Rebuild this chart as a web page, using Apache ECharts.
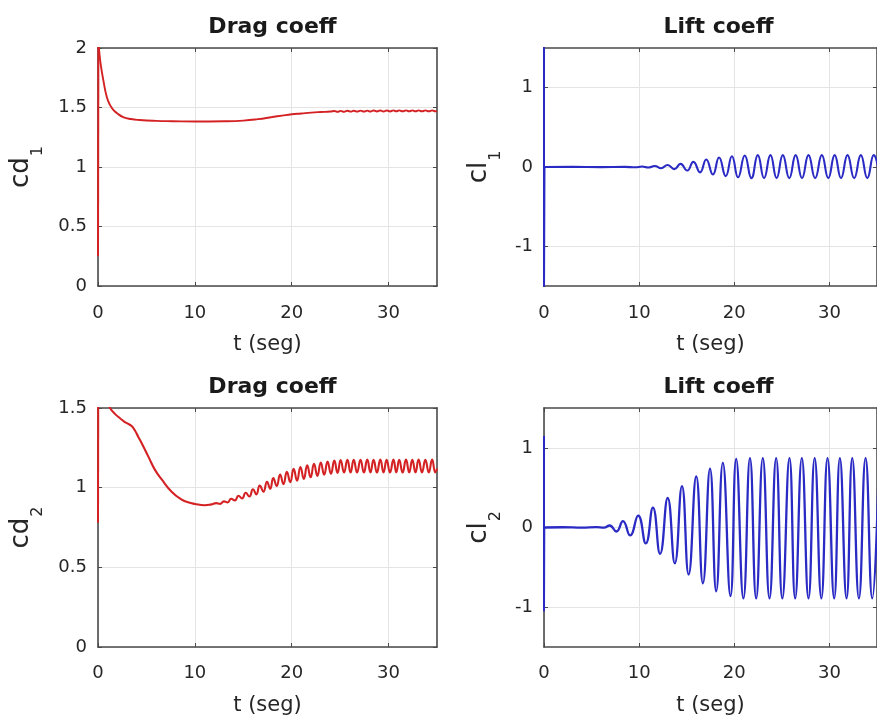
<!DOCTYPE html>
<html><head><meta charset="utf-8">
<script src="https://cdn.jsdelivr.net/npm/echarts@6/dist/echarts.min.js"></script>
<style>html,body{margin:0;padding:0;background:#fff}#c{width:877px;height:727px}</style>
</head><body><div id="c"></div>
<script>
// ---------- data ----------
const xTicks = [0, 10, 20, 30];
const tMax = 35;
const cd1Ticks = [0, 0.5, 1, 1.5, 2];
const cd2Ticks = [0, 0.5, 1, 1.5];
const clTicks = [-1, 0, 1];

const titles = ['Drag coeff', 'Lift coeff', 'Drag coeff', 'Lift coeff'];
const xName = 't (seg)';
const yNames = [['cd', '1'], ['cl', '1'], ['cd', '2'], ['cl', '2']];

const cd1Spike = [[0, 0.25], [0.04, 2.05]];
const cd1 = [[0.04,2.05],[0.15,1.95],[0.3,1.85],[0.55,1.73],[0.9,1.59],[1.25,1.52],[1.58,1.48],[2.0,1.45],[2.6,1.42],[3.4,1.403],[4.3,1.395],[6,1.388],[7.7,1.385],[10,1.382],[13,1.384],[15,1.39],[16.5,1.402],[18,1.42],[19,1.432],[20,1.443],[21,1.45],[22,1.457],[23,1.462],[24,1.466],
 [24.4,1.471],[24.73,1.463],[25.05,1.472],[25.4,1.464],[25.75,1.473],[26.08,1.465],[26.4,1.473],[26.75,1.465],[27.1,1.474],[27.45,1.466],[27.8,1.474],[28.13,1.466],[28.45,1.475],[28.8,1.467],[29.15,1.475],[29.48,1.467],[29.8,1.475],[30.15,1.467],[30.5,1.476],[30.8,1.468],[31.1,1.476],[31.45,1.468],[31.8,1.476],[32.13,1.468],[32.45,1.476],[32.78,1.468],[33.1,1.476],[33.45,1.468],[33.8,1.476],[34.15,1.468],[34.5,1.476],[34.82,1.468],[35.0,1.472]];

const cl1Spike = [[0, 0], [0, 1.6], [0, -1.6], [0.05, 0]];
const cl1 = [[0.05,0],[3,0.002],[6,-0.002],[8.5,0.002],[9.6,-0.004],[10.3,0.006],[10.95,-0.007],[11.65,0.013],[12.3,-0.015],[13.0,0.025],[13.7,-0.027],[14.35,0.04],[15.05,-0.045],[15.7,0.065],[16.4,-0.068],[17.05,0.095],[17.75,-0.095],[18.4,0.12],[19.1,-0.115],[19.75,0.135],[20.4,-0.13],[21.1,0.145],[21.8,-0.14],[22.47,0.15],[23.13,-0.14],[23.8,0.15],[24.45,-0.14],[25.1,0.15],[25.78,-0.14],[26.45,0.15],[27.12,-0.14],[27.8,0.15],[28.5,-0.14],[29.2,0.15],[29.88,-0.14],[30.55,0.15],[31.22,-0.14],[31.9,0.15],[32.6,-0.14],[33.3,0.15],[33.98,-0.14],[34.65,0.15],[35.3,-0.14]];

const cd2Spike = [[0, 0.78], [0.03, 1.75]];
const cd2 = [[0.03,1.75],[0.6,1.58],[1.24,1.5],[1.8,1.46],[2.27,1.436],[2.7,1.415],[3.13,1.40],[3.5,1.385],[3.8,1.36],[4.15,1.32],[4.5,1.28],[5.2,1.195],[5.9,1.11],[6.6,1.05],[7.6,0.975],[8.6,0.927],[9.3,0.908],[10.0,0.898],[11.0,0.89],[11.7,0.895],
 [12.2,0.903],[12.6,0.898],[13.0,0.914],[13.38,0.907],[13.75,0.930],[14.13,0.920],[14.5,0.949],[14.88,0.932],[15.25,0.968],[15.63,0.945],[16.0,0.99],[16.35,0.958],[16.7,1.013],[17.08,0.975],[17.45,1.037],[17.78,0.993],[18.1,1.06],[18.45,1.01],[18.8,1.083],[19.15,1.022],[19.5,1.10],[19.85,1.035],[20.2,1.118],[20.55,1.044],[20.9,1.13],[21.25,1.055],[21.6,1.14],[21.95,1.065],[22.3,1.15],[22.65,1.074],[23.0,1.158],[23.35,1.081],[23.7,1.164],[24.05,1.087],[24.4,1.17],[24.73,1.092],[25.05,1.173],[25.4,1.095],[25.75,1.175],[26.08,1.095],[26.4,1.175],[26.75,1.095],[27.1,1.175],[27.45,1.095],[27.8,1.176],[28.13,1.096],[28.45,1.175],[28.8,1.095],[29.15,1.176],[29.48,1.096],[29.8,1.175],[30.15,1.095],[30.5,1.176],[30.8,1.096],[31.1,1.175],[31.45,1.095],[31.8,1.176],[32.13,1.096],[32.45,1.175],[32.78,1.095],[33.1,1.176],[33.45,1.096],[33.8,1.175],[34.15,1.095],[34.5,1.176],[34.82,1.096],[35.0,1.12]];

const cl2Spike = [[0, 0], [0, 1.15], [0, -1.05], [0.03, 0]];
const cl2 = [[0.03,0],[2,0.003],[4,-0.002],[5.5,0.004],[6.3,-0.002],[6.9,0.025],[7.6,-0.05],[8.3,0.08],[9.05,-0.1],[9.9,0.15],[10.7,-0.2],[11.45,0.25],[12.2,-0.33],[13.0,0.37],[13.75,-0.45],[14.5,0.52],[15.2,-0.59],[16.0,0.64],[16.7,-0.70],[17.45,0.74],[18.1,-0.80],[18.8,0.81],[19.6,-0.86],[20.2,0.86],[20.96,-0.89],[21.65,0.87],[22.3,-0.89],[23.0,0.87],[23.7,-0.89],[24.4,0.87],[25.05,-0.89],[25.8,0.87],[26.4,-0.89],[27.1,0.87],[27.8,-0.89],[28.45,0.87],[29.15,-0.89],[29.8,0.87],[30.5,-0.89],[31.1,0.87],[31.8,-0.89],[32.4,0.87],[33.1,-0.89],[33.8,0.87],[34.5,-0.89],[35.2,0.87]];

// ---------- layout / style ----------
const FONT = 'DejaVu Sans';
const AX = '#4a4a4a';
const GRIDC = '#e4e4e4';
const RED = '#d42224';
const BLUE = '#2a2ac4';
const grids = [
  {left: 98, top: 48, width: 339, height: 238},
  {left: 544, top: 48, width: 339, height: 238},
  {left: 98, top: 408, width: 339, height: 239},
  {left: 544, top: 408, width: 339, height: 239}
];
const yCfg = [
  {min: 0, max: 2, ticks: cd1Ticks, gap: 52},
  {min: -1.5, max: 1.5, ticks: clTicks, gap: 40},
  {min: 0, max: 1.5, ticks: cd2Ticks, gap: 52},
  {min: -1.5, max: 1.5, ticks: clTicks, gap: 40}
];
const panels = [
  {spike: cd1Spike, main: cd1, color: RED, w: 1.9},
  {spike: cl1Spike, main: cl1, color: BLUE, w: 2.1},
  {spike: cd2Spike, main: cd2, color: RED, w: 2.1},
  {spike: cl2Spike, main: cl2, color: BLUE, w: 2.3}
];

const xAxis = [], yAxis = [], series = [], title = [];
grids.forEach((g, i) => {
  const line = {show: true, onZero: false, lineStyle: {color: AX, width: 1.6}};
  const tick = {show: true, inside: true, length: 4, customValues: xTicks, lineStyle: {color: AX, width: 1}};
  xAxis.push({
    type: 'value', gridIndex: i, min: 0, max: tMax, position: 'bottom',
    axisLine: line, axisTick: tick,
    axisLabel: {show: true, customValues: xTicks, margin: i < 2 ? 18 : 17, fontSize: 18, fontFamily: FONT, color: '#262626'},
    splitLine: {show: true, lineStyle: {color: GRIDC, width: 1}},
    name: xName, nameLocation: 'middle', nameGap: 48,
    nameTextStyle: {fontSize: 21, fontFamily: FONT, color: '#262626'}
  });
  xAxis.push({
    type: 'value', gridIndex: i, min: 0, max: tMax, position: 'top',
    axisLine: line, axisTick: tick, axisLabel: {show: false}, splitLine: {show: false}
  });
  const yc = yCfg[i];
  const ytick = {show: true, inside: true, length: 4, customValues: yc.ticks, lineStyle: {color: AX, width: 1}};
  yAxis.push({
    type: 'value', gridIndex: i, min: yc.min, max: yc.max, position: 'left',
    axisLine: line, axisTick: ytick,
    axisLabel: {show: true, customValues: yc.ticks, margin: 11, fontSize: 18, fontFamily: FONT, color: '#262626'},
    splitLine: {show: true, lineStyle: {color: GRIDC, width: 1}},
    name: '{a|' + yNames[i][0] + '}{b|' + yNames[i][1] + '}',
    nameLocation: 'middle', nameGap: yc.gap, nameRotate: 90,
    nameTextStyle: {
      color: '#262626', fontFamily: FONT,
      rich: {
        a: {fontSize: 26, fontFamily: FONT, color: '#262626'},
        b: {fontSize: 16, fontFamily: FONT, color: '#262626', padding: [34, 0, 0, 1]}
      }
    }
  });
  yAxis.push({
    type: 'value', gridIndex: i, min: yc.min, max: yc.max, position: 'right',
    axisLine: line, axisTick: ytick, axisLabel: {show: false}, splitLine: {show: false}
  });
  series.push({
    type: 'line', xAxisIndex: 2 * i, yAxisIndex: 2 * i, data: panels[i].spike,
    showSymbol: false, symbol: 'none', smooth: false, clip: true,
    lineStyle: {color: panels[i].color, width: 2}, z: 3
  });
  series.push({
    type: 'line', xAxisIndex: 2 * i, yAxisIndex: 2 * i, data: panels[i].main,
    showSymbol: false, symbol: 'none', smooth: 0.5, clip: true,
    lineStyle: {color: panels[i].color, width: panels[i].w}, z: 3
  });
  title.push({
    text: titles[i], left: g.left + g.width / 2, top: i < 2 ? 11 : 371, textAlign: 'center',
    textStyle: {fontSize: 22, fontWeight: 'bold', fontFamily: FONT, color: '#1a1a1a'}
  });
});

const chart = echarts.init(document.getElementById('c'), null, {renderer: 'canvas'});
chart.setOption({
  backgroundColor: '#ffffff',
  animation: false,
  title: title,
  grid: grids.map(g => Object.assign({containLabel: false}, g)),
  xAxis: xAxis,
  yAxis: yAxis,
  series: series
});
</script>
</body></html>
